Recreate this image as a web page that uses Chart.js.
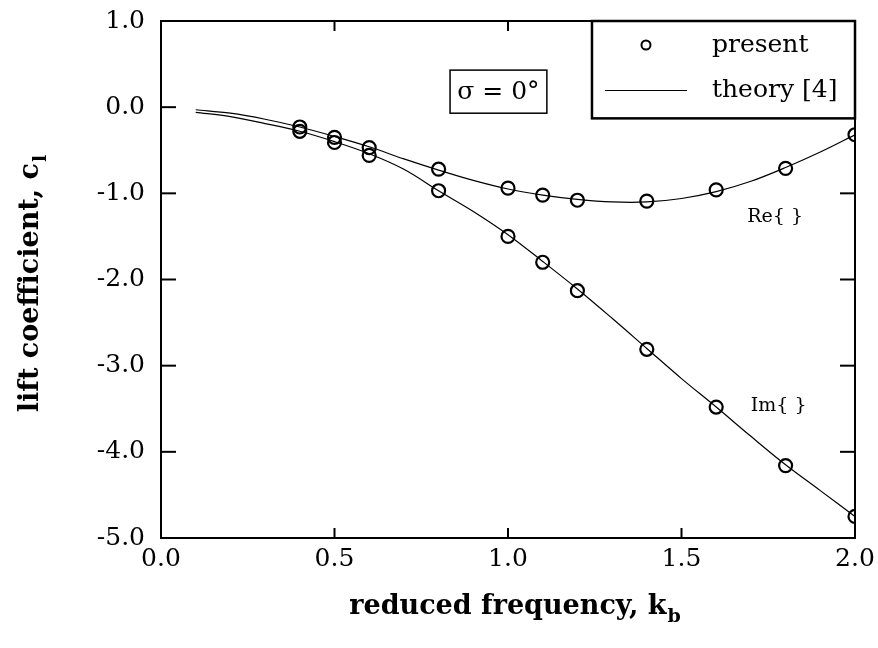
<!DOCTYPE html>
<html lang="en">
<head>
  <meta charset="UTF-8">
  <title>Lift coefficient vs reduced frequency</title>
  <style>
    html, body { margin: 0; padding: 0; background: #fff; }
    .wrap { width: 878px; height: 648px; }
  </style>
  <script src="https://cdn.jsdelivr.net/npm/chart.js"></script>
</head>
<body>
  <div class="wrap"><canvas id="liftChart" width="878" height="648"></canvas></div>

  <script>
    // present results (open circles)
    const presentK  = [0.4, 0.5, 0.6, 0.8, 1.0, 1.1, 1.2, 1.4, 1.6, 1.8, 2.0];
    const presentRe = [-0.23, -0.35, -0.47, -0.72, -0.94, -1.02, -1.08, -1.09, -0.96, -0.71, -0.32];
    const presentIm = [-0.28, -0.41, -0.56, -0.97, -1.50, -1.80, -2.13, -2.81, -3.48, -4.16, -4.75];

    // theory [4] (solid lines)
    const theoryK  = [0.1, 0.2, 0.3, 0.4, 0.5, 0.6, 0.7, 0.8, 0.9, 1.0, 1.1, 1.2, 1.3, 1.4, 1.5, 1.6, 1.7, 1.8, 1.9, 2.0];
    const theoryRe = [-0.03, -0.07, -0.14, -0.23, -0.34, -0.46, -0.60, -0.73, -0.85, -0.95, -1.02, -1.07, -1.10, -1.10, -1.06, -0.98, -0.86, -0.70, -0.52, -0.32];
    const theoryIm = [-0.06, -0.11, -0.19, -0.28, -0.40, -0.54, -0.72, -0.97, -1.21, -1.48, -1.79, -2.11, -2.45, -2.80, -3.15, -3.48, -3.82, -4.15, -4.45, -4.75];

    const xTicks = [0.0, 0.5, 1.0, 1.5, 2.0];
    const yTicks = [1.0, 0.0, -1.0, -2.0, -3.0, -4.0, -5.0];

    const serif = "'DejaVu Serif', serif";

    function pairs(xs, ys) {
      return xs.map((v, i) => ({ x: v, y: ys[i] }));
    }

    function seg(ctx, x1, y1, x2, y2) {
      ctx.beginPath();
      ctx.moveTo(x1, y1);
      ctx.lineTo(x2, y2);
      ctx.stroke();
    }

    // text followed by a smaller subscript, centred on (cx, base)
    function subText(ctx, main, sub, cx, base, size, weight) {
      ctx.font = weight + ' ' + size + 'px ' + serif;
      const w1 = ctx.measureText(main).width;
      ctx.font = weight + ' ' + Math.round(size * 0.72) + 'px ' + serif;
      const w2 = ctx.measureText(sub).width;
      const sx = cx - (w1 + w2 + 1) / 2;
      ctx.font = weight + ' ' + size + 'px ' + serif;
      ctx.fillText(main, sx, base);
      ctx.font = weight + ' ' + Math.round(size * 0.72) + 'px ' + serif;
      ctx.fillText(sub, sx + w1 + 1, base + size * 0.28);
    }

    // frame, inward ticks, axis titles, legend box and labels
    const decorPlugin = {
      id: 'decor',
      afterDraw(chart) {
        const { ctx, chartArea: a, scales: { x, y } } = chart;
        ctx.save();
        ctx.strokeStyle = '#000';
        ctx.fillStyle = '#000';

        ctx.lineWidth = 2;
        ctx.strokeRect(a.left, a.top, a.right - a.left, a.bottom - a.top);

        xTicks.forEach(v => {
          const px = x.getPixelForValue(v);
          seg(ctx, px, a.bottom, px, a.bottom - 10);
          seg(ctx, px, a.top, px, a.top + 10);
        });
        yTicks.forEach(v => {
          const py = y.getPixelForValue(v);
          seg(ctx, a.left, py, a.left + 15, py);
          seg(ctx, a.right, py, a.right - 15, py);
        });

        ctx.textAlign = 'left';
        ctx.textBaseline = 'alphabetic';
        subText(ctx, 'reduced frequency, k', 'b', (a.left + a.right) / 2 + 7, 614, 27, 'bold');

        ctx.save();
        ctx.translate(38, (a.top + a.bottom) / 2 + 4);
        ctx.rotate(-Math.PI / 2);
        subText(ctx, 'lift coefficient, c', 'l', 0, 0, 27, 'bold');
        ctx.restore();

        // legend box
        const lx = x.getPixelForValue(1.242);
        const lb = y.getPixelForValue(-0.13);
        ctx.fillStyle = '#fff';
        ctx.fillRect(lx, a.top, a.right - lx, lb - a.top);
        ctx.lineWidth = 2.5;
        ctx.strokeRect(lx, a.top, a.right - lx, lb - a.top);
        ctx.fillStyle = '#000';
        ctx.lineWidth = 2;
        ctx.beginPath();
        ctx.arc(lx + 54, a.top + 24, 4.5, 0, Math.PI * 2);
        ctx.stroke();
        ctx.lineWidth = 1;
        seg(ctx, lx + 13, Math.round(a.top + 69) + 0.5, lx + 95, Math.round(a.top + 69) + 0.5);
        ctx.font = '25px ' + serif;
        ctx.textBaseline = 'middle';
        ctx.fillText('present', lx + 120, a.top + 24);
        ctx.fillText('theory [4]', lx + 120, a.top + 69);

        // sigma box
        const bx1 = x.getPixelForValue(0.833), bx2 = x.getPixelForValue(1.112);
        const by1 = y.getPixelForValue(0.43), by2 = y.getPixelForValue(-0.07);
        ctx.lineWidth = 1.5;
        ctx.strokeRect(bx1, by1, bx2 - bx1, by2 - by1);
        ctx.textAlign = 'center';
        ctx.font = '25px ' + serif;
        ctx.fillText('\u03C3 = 0\u00B0', (bx1 + bx2) / 2, (by1 + by2) / 2 + 1);

        // curve labels
        ctx.font = '19px ' + serif;
        ctx.fillText('Re{ }', x.getPixelForValue(1.77), y.getPixelForValue(-1.28));
        ctx.fillText('Im{ }', x.getPixelForValue(1.78), y.getPixelForValue(-3.47));

        ctx.restore();
      }
    };

    const lineStyle = {
      type: 'line',
      borderColor: '#000',
      borderWidth: 1.2,
      pointRadius: 0,
      tension: 0.35,
      fill: false
    };
    const circleStyle = {
      type: 'scatter',
      borderColor: '#000',
      backgroundColor: 'rgba(255,255,255,0)',
      borderWidth: 2.2,
      pointRadius: 6.5,
      pointStyle: 'circle',
      showLine: false
    };

    new Chart(document.getElementById('liftChart').getContext('2d'), {
      data: {
        datasets: [
          Object.assign({ label: 'theory Re', data: pairs(theoryK, theoryRe) }, lineStyle),
          Object.assign({ label: 'theory Im', data: pairs(theoryK, theoryIm) }, lineStyle),
          Object.assign({ label: 'present Re', data: pairs(presentK, presentRe) }, circleStyle),
          Object.assign({ label: 'present Im', data: pairs(presentK, presentIm) }, circleStyle)
        ]
      },
      options: {
        responsive: false,
        animation: false,
        layout: { padding: { left: 0, right: 23, top: 21, bottom: 0 } },
        plugins: { legend: { display: false }, tooltip: { enabled: false } },
        scales: {
          x: {
            type: 'linear',
            min: 0, max: 2,
            afterFit(scale) { scale.height = 110; },
            afterBuildTicks(scale) { scale.ticks = xTicks.map(v => ({ value: v })); },
            grid: { display: false, drawTicks: true, tickLength: 6 },
            border: { display: false },
            ticks: {
              padding: 0,
              color: '#000',
              font: { family: serif, size: 25 },
              callback: v => v.toFixed(1)
            }
          },
          y: {
            type: 'linear',
            min: -5, max: 1,
            afterFit(scale) { scale.width = 161; },
            afterBuildTicks(scale) { scale.ticks = yTicks.map(v => ({ value: v })); },
            grid: { display: false, drawTicks: true, tickLength: 16 },
            border: { display: false },
            ticks: {
              padding: 0,
              color: '#000',
              font: { family: serif, size: 25 },
              callback: v => v.toFixed(1)
            }
          }
        }
      },
      plugins: [decorPlugin]
    });
  </script>
</body>
</html>
